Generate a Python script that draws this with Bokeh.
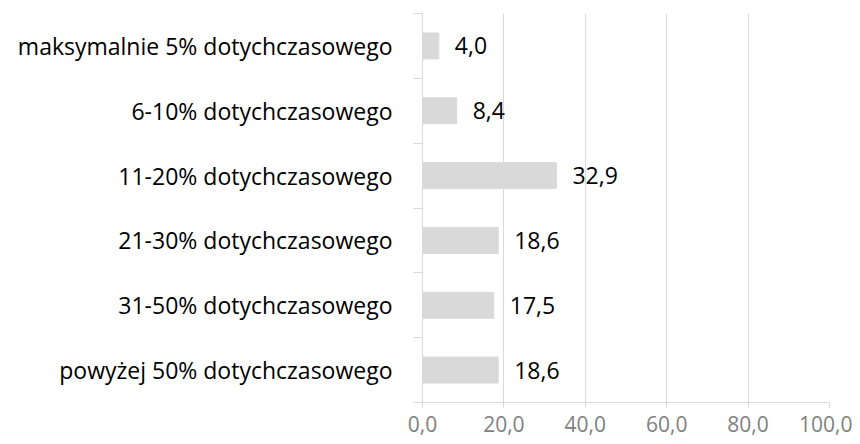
from bokeh.plotting import figure
from bokeh.models import FixedTicker, Range1d, ColumnDataSource
from bokeh.core.properties import value
from bokeh.embed import file_html
from bokeh.resources import INLINE

categories = [
    "maksymalnie 5% dotychczasowego",
    "6-10% dotychczasowego",
    "11-20% dotychczasowego",
    "21-30% dotychczasowego",
    "31-50% dotychczasowego",
    "powyżej 50% dotychczasowego",
]
values = [4.0, 8.4, 32.9, 18.6, 17.5, 18.6]
x_ticks = [0, 20, 40, 60, 80, 100]
x_tick_labels = ["0,0", "20,0", "40,0", "60,0", "80,0", "100,0"]

FONT = "Open Sans"
FS = "23px"
n = len(categories)
pos = [n - i - 0.5 for i in range(n)]
labels = [f"{v:.1f}".replace(".", ",") for v in values]

src = ColumnDataSource(dict(y=pos, v=values, lab=labels))

p = figure(width=852, height=444, output_backend="svg", toolbar_location=None,
           x_range=Range1d(0, 100), y_range=Range1d(0, n),
           min_border_left=422, min_border_right=23, min_border_top=13, min_border_bottom=42)
p.outline_line_color = None
p.background_fill_color = "white"
p.border_fill_color = "white"

p.hbar(y="y", right="v", left=0, height=0.4, color="#d9d9d9", source=src)
p.text(x="v", y="y", text="lab", source=src, x_offset=16, text_align="left",
       text_baseline="middle", text_font=value(FONT), text_font_size=FS, text_color="#000000")

# x axis
xa = p.xaxis[0]
xa.ticker = FixedTicker(ticks=x_ticks, minor_ticks=[])
xa.major_label_overrides = {t: l for t, l in zip(x_ticks, x_tick_labels)}
xa.axis_line_color = "#d9d9d9"
xa.major_tick_line_color = "#d9d9d9"
xa.major_tick_out = 6
xa.major_tick_in = 0
xa.minor_tick_line_color = None
xa.major_label_text_font = FONT
xa.major_label_text_font_size = "21px"
xa.major_label_text_color = "#808080"
xa.major_label_standoff = 7

# y axis
ya = p.yaxis[0]
ya.ticker = FixedTicker(ticks=pos, minor_ticks=list(range(n + 1)))
ya.major_label_overrides = {pp: c for pp, c in zip(pos, categories)}
ya.axis_line_color = "#d9d9d9"
ya.major_tick_line_color = None
ya.major_tick_out = 0
ya.major_tick_in = 0
ya.minor_tick_line_color = "#d9d9d9"
ya.minor_tick_out = 9
ya.minor_tick_in = 0
ya.major_label_text_font = FONT
ya.major_label_text_font_size = FS
ya.major_label_text_color = "#000000"
ya.major_label_standoff = 21

p.xgrid.grid_line_color = "#d9d9d9"
p.xgrid.ticker = FixedTicker(ticks=x_ticks)
p.ygrid.grid_line_color = None

open("out.html", "w").write(file_html(p, INLINE))
